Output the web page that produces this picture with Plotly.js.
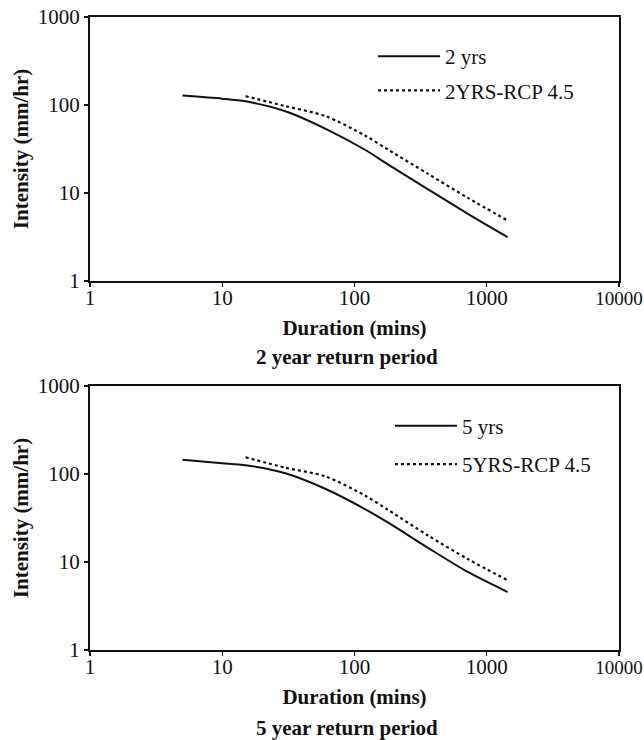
<!DOCTYPE html>
<html>
<head>
<meta charset="utf-8">
<script src="https://cdn.plot.ly/plotly-3.0.1.min.js"></script>
<style>
  html, body { margin: 0; padding: 0; background: #fff; }
  #chart { width: 644px; height: 740px; }
</style>
</head>
<body>
<div id="chart"></div>
<script>
// IDF curves: rainfall intensity vs storm duration, baseline and RCP 4.5
const durations = [5, 10, 15, 30, 60, 120, 180, 360, 720, 1440];
const rcpDurations = [15, 30, 60, 120, 180, 360, 720, 1440];

const intensity2yr = [128, 118, 110, 85, 54, 31, 21, 11.0, 5.8, 3.15];
const intensity2yrRcp = [126, 97, 75, 45, 31, 16.5, 8.8, 4.85];
const intensity5yr = [145, 133, 126, 102, 68, 40, 28, 14.5, 7.7, 4.55];
const intensity5yrRcp = [155, 118, 94, 57, 39, 20, 10.8, 6.2];

const seriesNames = ['2 yrs', '2YRS-RCP 4.5', '5 yrs', '5YRS-RCP 4.5'];
const captions = ['2 year return period', '5 year return period'];
const tickValues = [1, 10, 100, 1000, 10000];
const tickLabels = ['1', '10', '100', '1000', '10000'];

const serif = '"Liberation Serif", "Times New Roman", serif';
const ink = '#111';

function curve(x, y, name, dash, xa, ya, legend, group) {
  return {
    x: x, y: y, name: name, type: 'scatter', mode: 'lines',
    xaxis: xa, yaxis: ya, legend: legend, legendgroup: group,
    line: { color: ink, width: dash === 'solid' ? 2 : 2.2, dash: dash, shape: 'spline', smoothing: 0.8 },
    hoverinfo: 'x+y+name'
  };
}

const traces = [
  curve(durations, intensity2yr, seriesNames[0], 'solid', 'x', 'y', 'legend', 'a'),
  curve(rcpDurations, intensity2yrRcp, seriesNames[1], 'dot', 'x', 'y', 'legend', 'b'),
  curve(durations, intensity5yr, seriesNames[2], 'solid', 'x2', 'y2', 'legend2', 'c'),
  curve(rcpDurations, intensity5yrRcp, seriesNames[3], 'dot', 'x2', 'y2', 'legend2', 'd')
];

// the last duration label sits at the right edge of the page, so it is set a little smaller
const xTickText = tickLabels.map((t, i) =>
  i === tickLabels.length - 1 ? '<span style="font-size:19px">' + t + '</span>' : t);

function xAxis(anchor) {
  return {
    type: 'log', range: [-0.0005, 4.0005], anchor: anchor,
    tickvals: tickValues, ticktext: xTickText,
    ticks: 'outside', ticklen: 4, tickwidth: 1.5, tickcolor: ink,
    ticklabelstandoff: -7, ticklabeloverflow: 'allow',
    showline: true, linecolor: ink, linewidth: 2, mirror: true,
    showgrid: false, zeroline: false,
    tickfont: { family: serif, size: 21, color: ink },
    title: { text: '<b>Duration (mins)</b>', font: { family: serif, size: 21, color: ink }, standoff: 11 }
  };
}

function yAxis(anchor, domain) {
  return {
    type: 'log', range: [0, 3], anchor: anchor, domain: domain,
    tickvals: tickValues.slice(0, 4), ticktext: tickLabels.slice(0, 4),
    ticks: 'outside', ticklen: 4, tickwidth: 1.5, tickcolor: ink,
    showline: true, linecolor: ink, linewidth: 2, mirror: true,
    showgrid: false, zeroline: false,
    tickfont: { family: serif, size: 21, color: ink },
    title: { text: '<b>Intensity (mm/hr)</b>', font: { family: serif, size: 21, color: ink }, standoff: 3 }
  };
}

const legendStyle = {
  font: { family: serif, size: 21, color: ink },
  bgcolor: 'rgba(0,0,0,0)', borderwidth: 0,
  xanchor: 'left', yanchor: 'top',
  itemwidth: 62, traceorder: 'grouped'
};

const layout = {
  width: 644, height: 740,
  margin: { l: 90, r: 25, t: 17, b: 90 },
  paper_bgcolor: '#fff', plot_bgcolor: '#fff',
  showlegend: true,
  xaxis: xAxis('y'),
  yaxis: yAxis('x', [0.583, 1]),
  xaxis2: xAxis('y2'),
  yaxis2: yAxis('x2', [0, 0.417]),
  legend: Object.assign({ x: 0.535, y: 0.970, tracegroupgap: 4 }, legendStyle),
  legend2: Object.assign({ x: 0.567, y: 0.386, tracegroupgap: 8 }, legendStyle),
  annotations: [
    { text: '<b>' + captions[0] + '</b>', xref: 'paper', yref: 'paper', x: 0.486, y: 0.583,
      yanchor: 'middle', yshift: -76, showarrow: false, font: { family: serif, size: 21, color: ink } },
    { text: '<b>' + captions[1] + '</b>', xref: 'paper', yref: 'paper', x: 0.486, y: 0,
      yanchor: 'middle', yshift: -78, showarrow: false, font: { family: serif, size: 21, color: ink } }
  ]
};

Plotly.newPlot('chart', traces, layout, { displayModeBar: false, staticPlot: true });
</script>
</body>
</html>
